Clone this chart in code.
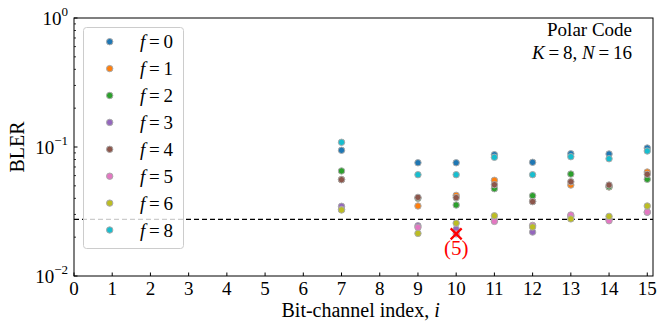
<!DOCTYPE html>
<html>
<head>
<meta charset="utf-8">
<script src="https://cdn.jsdelivr.net/npm/d3@7"></script>
<style>
	body { margin: 0; background: #fff; }
	svg { display: block; font-family: "Liberation Serif", "DejaVu Serif", serif; }
</style>
</head>
<body>
<div id="chart"></div>
<script>
// bit-channel indices with a point
const channels = [7, 9, 10, 11, 12, 13, 14, 15];
const fLabels = ["0", "1", "2", "3", "4", "5", "6", "8"];
const colors = ["#1f77b4", "#ff7f0e", "#2ca02c", "#9467bd", "#8c564b", "#e377c2", "#bcbd22", "#17becf"];
// BLER per f, one value per channel above
const bler_f0 = [0.0943, 0.0755, 0.0755, 0.0872, 0.0761, 0.0887, 0.0883, 0.0982];
const bler_f1 = [0.056, 0.0349, 0.0422, 0.0552, 0.038, 0.0507, 0.049, 0.064];
const bler_f2 = [0.0652, 0.04, 0.0355, 0.0475, 0.0419, 0.0617, 0.0492, 0.0562];
const bler_f3 = [0.0347, 0.0245, 0.0231, 0.027, 0.0219, 0.029, 0.0275, 0.0312];
const bler_f4 = [0.0558, 0.0407, 0.0405, 0.051, 0.0377, 0.0538, 0.0507, 0.0614];
const bler_f5 = [0.0328, 0.0238, 0.0212, 0.0265, 0.0247, 0.0297, 0.0268, 0.0313];
const bler_f6 = [0.0325, 0.0214, 0.0257, 0.0293, 0.024, 0.0277, 0.029, 0.0349];
const bler_f8 = [0.1088, 0.061, 0.061, 0.0832, 0.061, 0.0841, 0.0811, 0.0931];
const series = [bler_f0, bler_f1, bler_f2, bler_f3, bler_f4, bler_f5, bler_f6, bler_f8];
const threshold = 0.0275;
const marked = { idx: 10, value: 0.0212, label: "(5)" };
const xTicks = d3.range(0, 16);
const yMajor = [-2, -1, 0];

const size = { w: 658, h: 326 };
const margin = { t: 18, r: 5, b: 50, l: 74 };

const svg = d3
	.select("#chart")
	.append("svg")
	.attr("width", size.w)
	.attr("height", size.h);

const x = d3
	.scaleLinear()
	.domain([0, 15.15])
	.range([margin.l, size.w - margin.r]);
const y = d3
	.scaleLog()
	.domain([1e-2, 1])
	.range([size.h - margin.b, margin.t]);

const plotW = size.w - margin.r - margin.l;
const plotH = size.h - margin.b - margin.t;

// threshold line
svg.append("line")
	.attr("x1", x(0))
	.attr("x2", x(15.15))
	.attr("y1", y(threshold))
	.attr("y2", y(threshold))
	.attr("stroke", "#000")
	.attr("stroke-width", 1.2)
	.attr("stroke-dasharray", "5,3");

// points
series.forEach((vals, k) => {
	svg.append("g")
		.selectAll("circle")
		.data(vals.map((v, i) => ({ idx: channels[i], v: v })))
		.join("circle")
		.attr("cx", (d) => x(d.idx))
		.attr("cy", (d) => y(d.v))
		.attr("r", 3.2)
		.attr("fill", colors[k])
		.attr("stroke", "#aaa")
		.attr("stroke-width", 1);
});

// red cross
const cx = x(marked.idx), cy = y(marked.value);
svg.append("path")
	.attr("d", `M${cx - 5.5},${cy - 5.5}L${cx + 5.5},${cy + 5.5}M${cx - 5.5},${cy + 5.5}L${cx + 5.5},${cy - 5.5}`)
	.attr("stroke", "#ff0000")
	.attr("stroke-width", 2.2);
svg.append("text")
	.attr("x", cx)
	.attr("y", cy + 21)
	.attr("text-anchor", "middle")
	.attr("font-size", 21)
	.attr("fill", "#ff0000")
	.text(marked.label);

// frame
svg.append("rect")
	.attr("x", margin.l)
	.attr("y", margin.t)
	.attr("width", plotW)
	.attr("height", plotH)
	.attr("fill", "none")
	.attr("stroke", "#000")
	.attr("stroke-width", 1);

// x ticks
const xAxis = svg.append("g");
xTicks.forEach((t) => {
	xAxis.append("line")
		.attr("x1", x(t))
		.attr("x2", x(t))
		.attr("y1", y(1e-2))
		.attr("y2", y(1e-2) - 3.5)
		.attr("stroke", "#000");
	xAxis.append("text")
		.attr("x", x(t))
		.attr("y", y(1e-2) + 19)
		.attr("text-anchor", "middle")
		.attr("font-size", 19)
		.text(t);
});

// y ticks (log, with minors)
const yAxis = svg.append("g");
yMajor.forEach((e) => {
	yAxis.append("line")
		.attr("x1", margin.l)
		.attr("x2", margin.l + 3.5)
		.attr("y1", y(Math.pow(10, e)))
		.attr("y2", y(Math.pow(10, e)))
		.attr("stroke", "#000");
	const lbl = yAxis.append("text")
		.attr("x", margin.l - 6)
		.attr("y", y(Math.pow(10, e)) + 7)
		.attr("text-anchor", "end")
		.attr("font-size", 19);
	lbl.append("tspan").text("10");
	lbl.append("tspan")
		.attr("font-size", 13)
		.attr("dy", -9)
		.text(e < 0 ? "\u2212" + Math.abs(e) : e);
	if (e < 0) {
		d3.range(2, 10).forEach((m) => {
			const v = m * Math.pow(10, e);
			yAxis.append("line")
				.attr("x1", margin.l)
				.attr("x2", margin.l + 2)
				.attr("y1", y(v))
				.attr("y2", y(v))
				.attr("stroke", "#000")
				.attr("stroke-width", 0.8);
		});
	}
});

// axis labels
const xl = svg.append("text")
	.attr("x", x(7.5))
	.attr("y", size.h - 9)
	.attr("text-anchor", "middle")
	.attr("font-size", 20);
xl.append("tspan").text("Bit-channel index, ");
xl.append("tspan").attr("font-style", "italic").text("i");

svg.append("text")
	.attr("transform", `translate(24, ${(margin.t + size.h - margin.b) / 2}) rotate(-90)`)
	.attr("text-anchor", "middle")
	.attr("font-size", 20)
	.text("BLER");

// annotation
svg.append("text")
	.attr("x", 632)
	.attr("y", 36)
	.attr("text-anchor", "end")
	.attr("font-size", 19)
	.text("Polar Code");
const kn = svg.append("text")
	.attr("x", 632)
	.attr("y", 59)
	.attr("text-anchor", "end")
	.attr("font-size", 19);
kn.append("tspan").attr("font-style", "italic").text("K");
kn.append("tspan").text("\u2009=\u20098, ");
kn.append("tspan").attr("font-style", "italic").text("N");
kn.append("tspan").text("\u2009=\u200916");

// legend
const legend = svg.append("g");
legend.append("rect")
	.attr("x", 83.5)
	.attr("y", 27.5)
	.attr("width", 100)
	.attr("height", 221)
	.attr("rx", 3)
	.attr("fill", "#fff")
	.attr("fill-opacity", 0.8)
	.attr("stroke", "#ccc")
	.attr("stroke-width", 1);
fLabels.forEach((f, k) => {
	const ly = 41.7 + k * 26.9;
	legend.append("circle")
		.attr("cx", 109.7)
		.attr("cy", ly)
		.attr("r", 3.2)
		.attr("fill", colors[k])
		.attr("stroke", "#aaa")
		.attr("stroke-width", 1);
	const t = legend.append("text")
		.attr("x", 140)
		.attr("y", ly + 6.5)
		.attr("font-size", 19);
	t.append("tspan").attr("font-style", "italic").text("f");
	t.append("tspan").text("\u2009=\u2009" + f);
});
</script>
</body>
</html>
